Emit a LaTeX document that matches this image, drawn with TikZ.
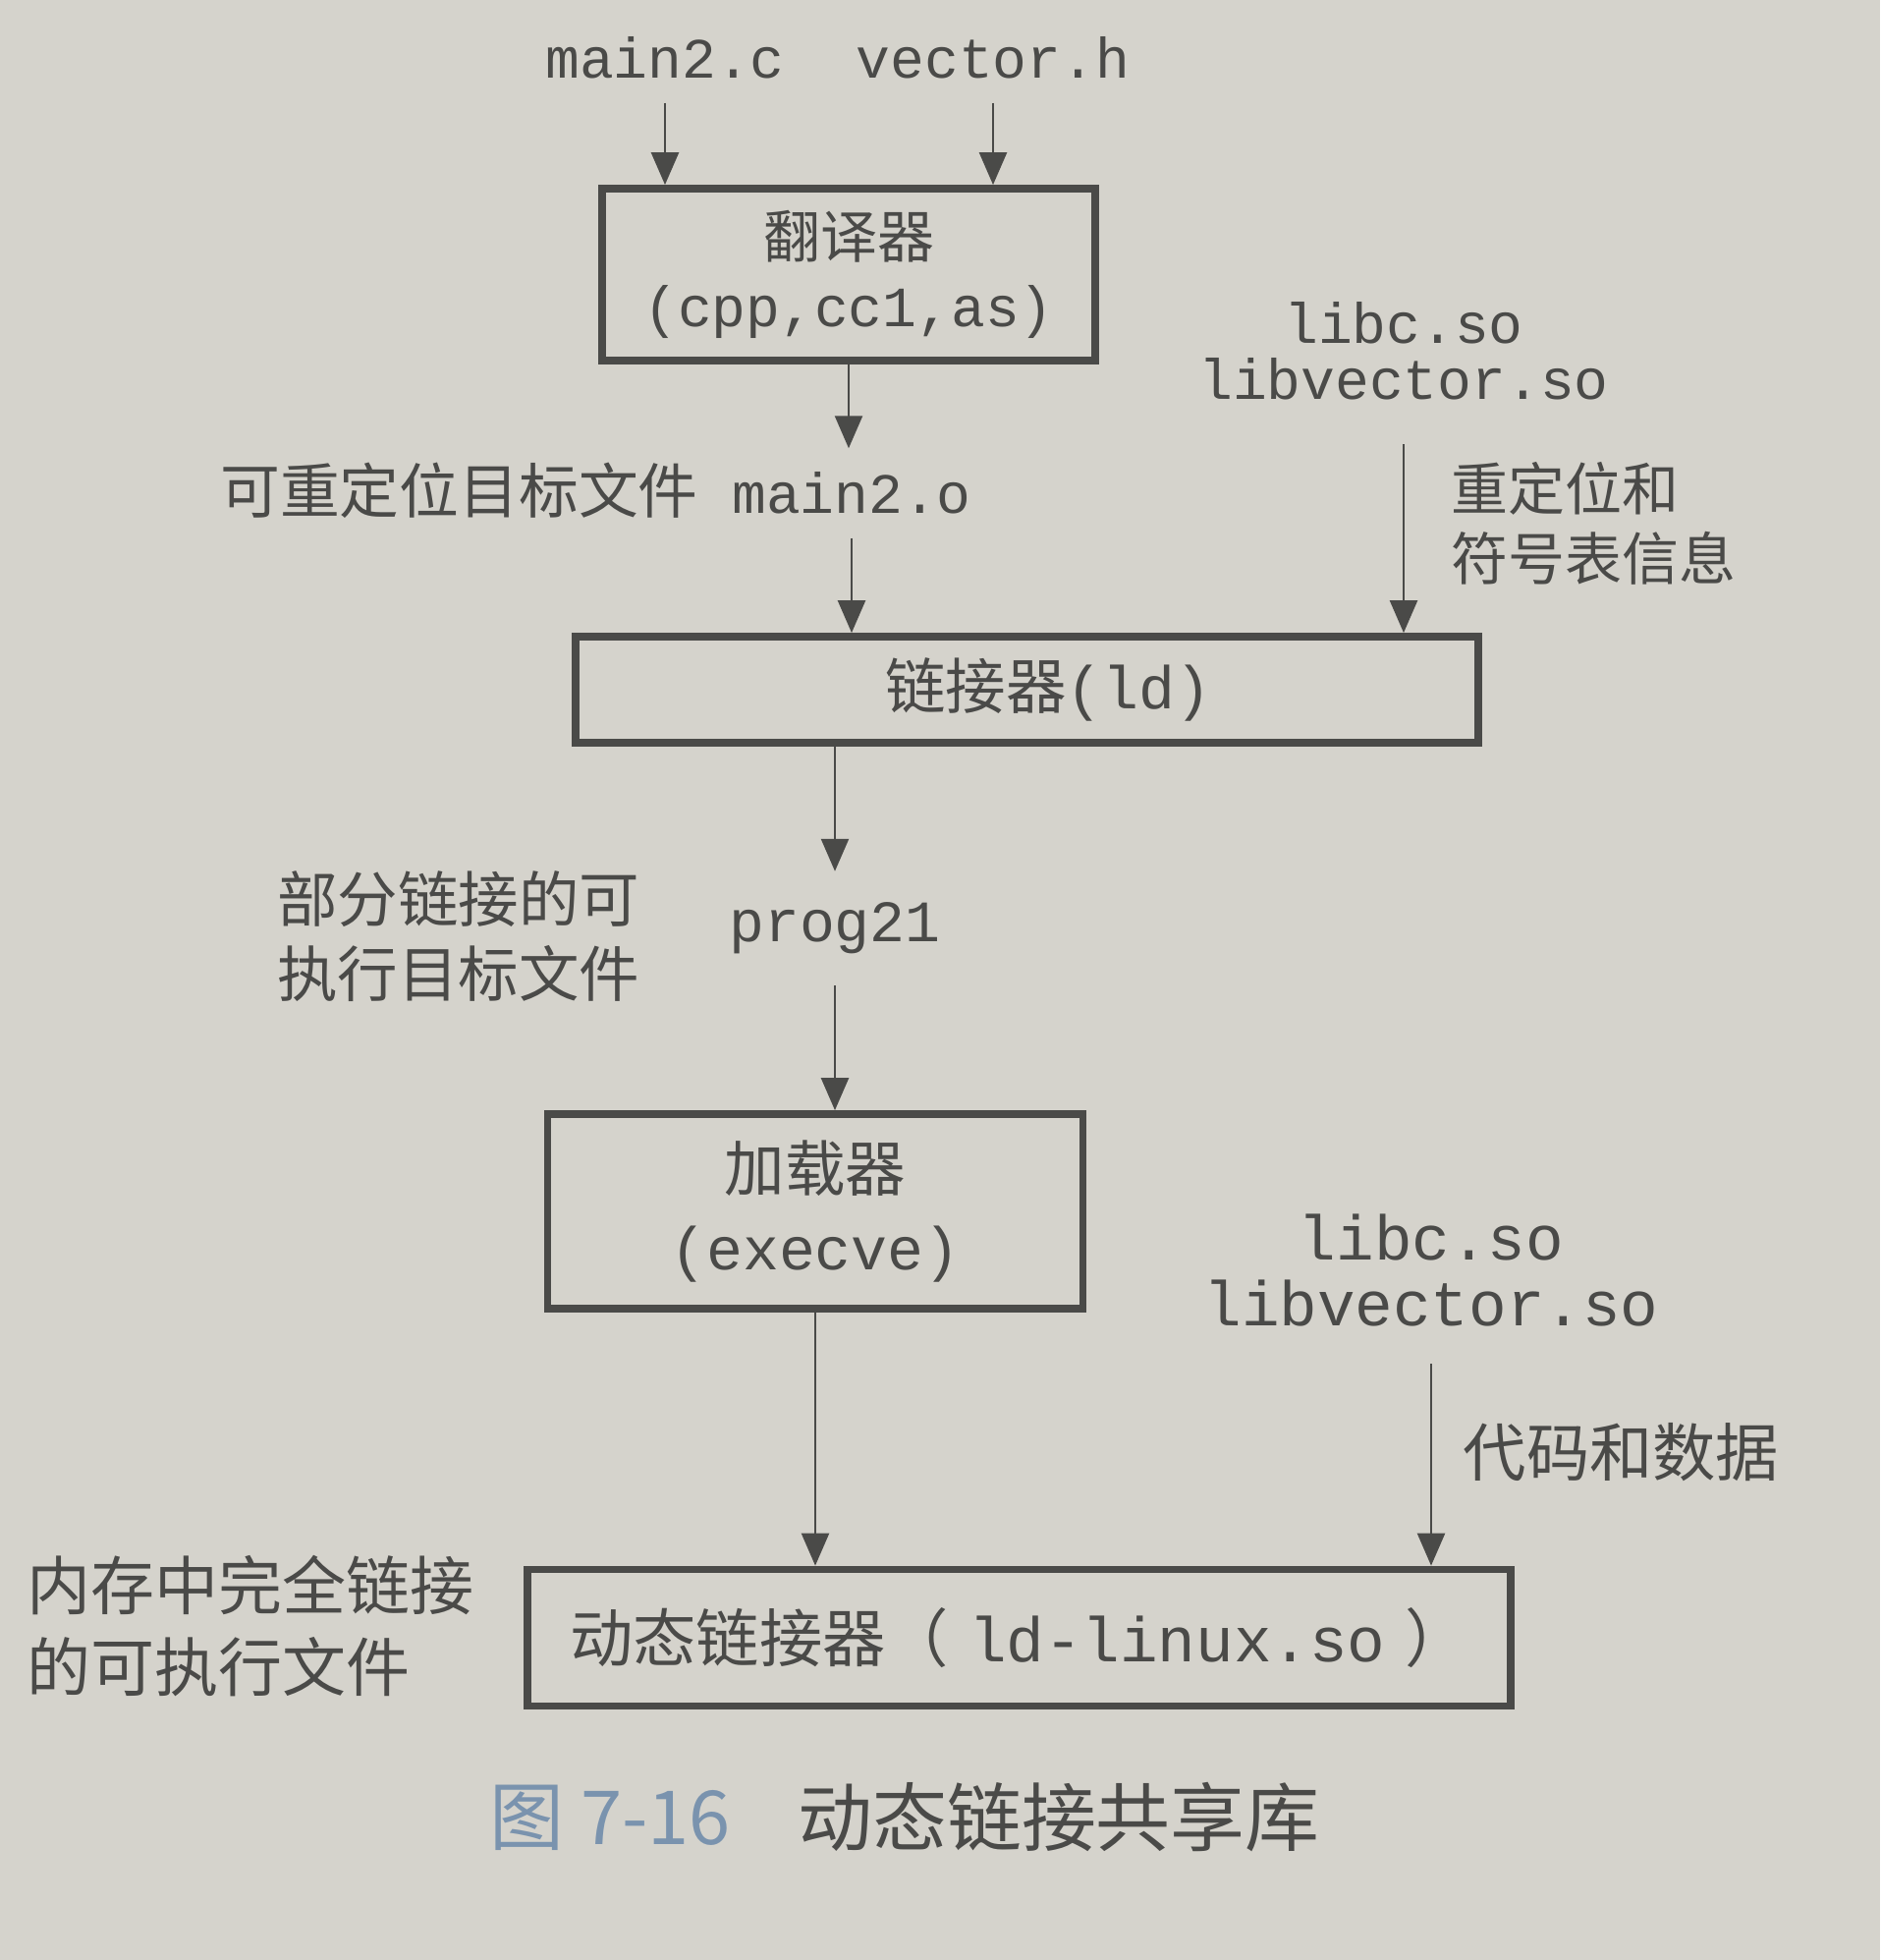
\documentclass[tikz,border=0pt]{standalone}
\usepackage{fontspec}
\setmainfont{Noto Sans CJK SC}
\setmonofont{Liberation Mono}
\usepackage{tikz}
\usetikzlibrary{arrows.meta, positioning}

\definecolor{paper}{HTML}{D5D3CC}
\definecolor{ink}{HTML}{4A4A48}
\definecolor{capblue}{HTML}{7A93AE}

\newcommand{\sizetop}{\fontsize{16.5}{20}\selectfont}
\newcommand{\sizemid}{\fontsize{17.5}{22}\selectfont}
\newcommand{\sizelow}{\fontsize{18.3}{23}\selectfont}

\tikzset{
  every node/.style={text=ink},
  boxnode/.style={draw=ink, line width=2.2pt, inner sep=0pt, align=center},
  flow/.style={draw=ink, line width=0.7pt, -{Triangle[width=2.8mm,length=3.3mm]}},
  fname/.style={font=\ttfamily\sizetop, inner sep=0pt, minimum height=9mm},
  note/.style={inner sep=0pt, align=left},
}

\begin{document}
\begin{tikzpicture}
\fill[paper] (0,0) rectangle (19.14,19.95);
\useasboundingbox (0,0) rectangle (19.14,19.95);

% sources and translator
\node[fname] (main2c) at (6.77,19.36) {main2.c};
\node[fname] (vectorh) at (10.11,19.36) {vector.h};
\node[boxnode, font=\sizetop, minimum width=5.02cm, minimum height=1.75cm] (trans) at (8.64,17.155) {翻译器\\{\ttfamily (cpp,cc1,as)}};

\node[fname] (main2o) at (8.67,14.93) {main2.o};
\node[inner sep=0pt, font=\fontsize{17.3}{20}\selectfont, anchor=base east] (relobj) at ([xshift=-3.3mm]main2o.base west) {可重定位目标文件};

\node[fname, align=center, font=\ttfamily\fontsize{16.5}{16.2}\selectfont, inner ysep=4.5mm] (libsA) at (14.29,16.38) {libc.so\\libvector.so};
\node[note, font=\fontsize{16.5}{20.4}\selectfont, anchor=west] (relinfo) at (14.77,14.62) {重定位和\\符号表信息};

% linker
\node[boxnode, font=\sizemid, minimum width=9.19cm, minimum height=1.08cm] (linker) at (10.455,12.93) {\hspace{4.4mm}链接器{\ttfamily (ld)}};

\node[fname, font=\ttfamily\fontsize{17}{20}\selectfont, minimum height=11.5mm] (prog21) at (8.50,10.50) {prog21};
\node[note, align=right, font=\fontsize{17.5}{21.5}\selectfont, left=9mm of prog21, yshift=-0.8mm] (partial) {部分链接的可\\执行目标文件};

% loader
\node[boxnode, font=\fontsize{17.5}{23}\selectfont, minimum width=5.45cm, minimum height=1.98cm] (loader) at (8.30,7.62) {加载器\\{\ttfamily (execve)}};

\node[fname, align=center, font=\ttfamily\fontsize{18.3}{19.3}\selectfont, inner ysep=3.7mm] (libsB) at (14.57,7.02) {libc.so\\libvector.so};
\node[note, font=\sizelow, anchor=west] (codedata) at (14.89,5.17) {代码和数据};

% dynamic linker
\node[boxnode, font=\sizelow, minimum width=10.01cm, minimum height=1.39cm] (dyn) at (10.375,3.28) {动态链接器（\hspace{2mm}{\ttfamily ld-linux.so}\hspace{2mm}）};
\node[note, font=\fontsize{18.5}{23.8}\selectfont, left=5mm of dyn, yshift=1.2mm] (memexe) {内存中完全链接\\的可执行文件};

% caption
\node[inner sep=0pt, font=\fontsize{21.6}{26}\selectfont, text=capblue] (fignum) at (6.21,1.45) {图 7-16};
\node[inner sep=0pt, font=\fontsize{21.6}{26}\selectfont] (figtitle) at (10.78,1.45) {动态链接共享库};

% arrows
\draw[flow] (main2c.south) -- (main2c.south |- trans.north);
\draw[flow] (vectorh.south) -- (vectorh.south |- trans.north);
\draw[flow] (trans.south) -- (trans.south |- main2o.north);
\draw[flow] (main2o.south) -- (main2o.south |- linker.north);
\draw[flow] (libsA.south) -- (libsA.south |- linker.north);
\draw[flow] (prog21.north |- linker.south) -- (prog21.north);
\draw[flow] (prog21.south) -- (prog21.south |- loader.north);
\draw[flow] (loader.south) -- (loader.south |- dyn.north);
\draw[flow] (libsB.south) -- (libsB.south |- dyn.north);

\end{tikzpicture}
\end{document}
